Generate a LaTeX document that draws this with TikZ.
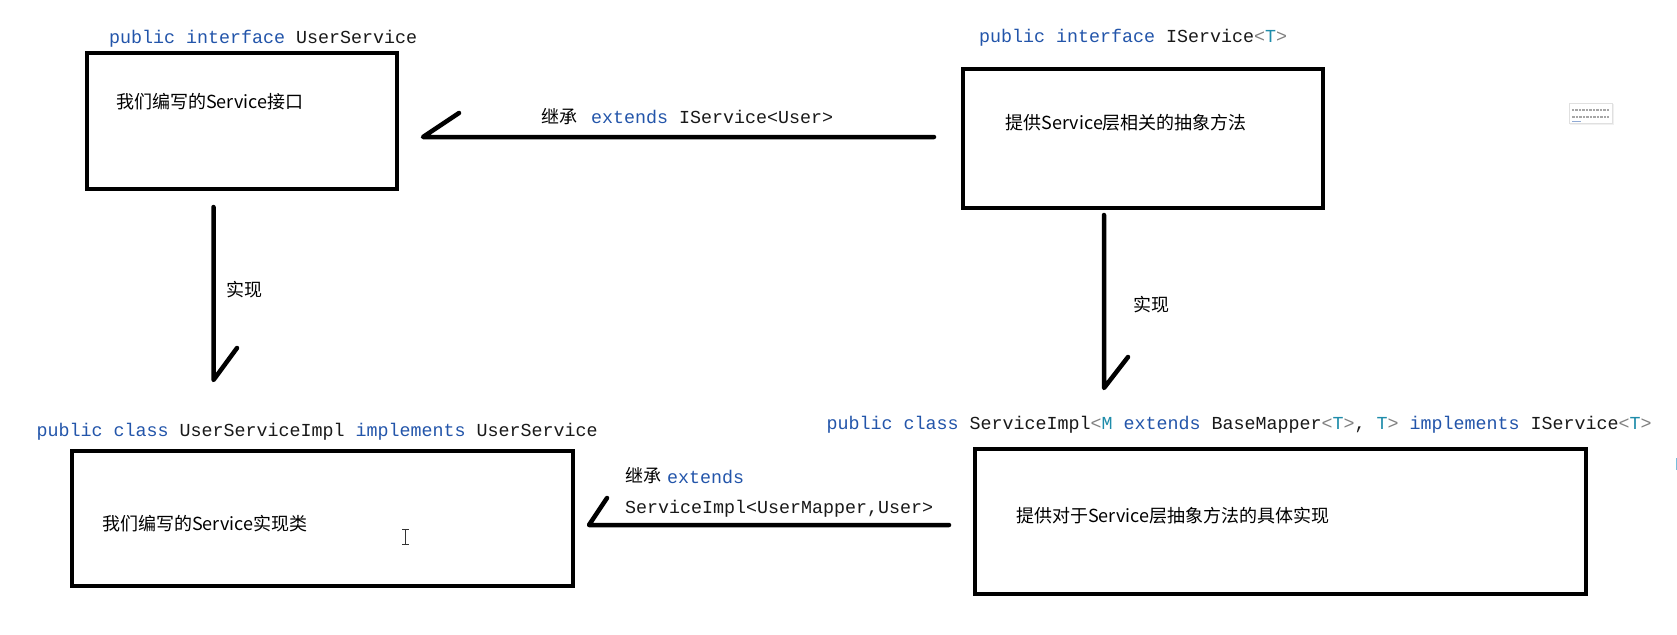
\documentclass[tikz,border=0pt]{standalone}
\usepackage{fontspec}
\setmonofont{Liberation Mono}
\newfontfamily\cjk{Noto Sans CJK SC}
\definecolor{kwblue}{RGB}{35,85,170}
\definecolor{tpteal}{RGB}{30,140,170}
\definecolor{brgray}{RGB}{128,128,128}
\definecolor{ink}{RGB}{25,25,25}
\definecolor{edgeblue}{RGB}{120,190,220}
\newcommand{\kw}[1]{\textcolor{kwblue}{#1}}
\newcommand{\tp}[1]{\textcolor{tpteal}{#1}}
\newcommand{\bk}[1]{\textcolor{brgray}{#1}}
\tikzset{
  box/.style={draw=black, line width=4.5pt, rectangle, inner sep=0pt},
  code/.style={inner sep=0pt, anchor=base west, text=ink, font=\ttfamily\fontsize{18.33}{20}\selectfont},
  zh/.style={inner sep=0pt, anchor=west, text=black, font=\cjk\fontsize{18}{20}\selectfont},
  arrowline/.style={draw=black, line width=4.5pt, line cap=round, line join=round}
}
\begin{document}
\begin{tikzpicture}[x=1pt,y=-1pt]
\useasboundingbox[fill=white] (0,0) rectangle (1677,634);

% boxes
\node[box, minimum width=310pt, minimum height=136pt] (b1) at (242,121) {};
\node[box, minimum width=360pt, minimum height=139pt] (b2) at (1143,138.5) {};
\node[box, minimum width=501pt, minimum height=135pt] (b3) at (322.5,518.5) {};
\node[box, minimum width=611pt, minimum height=145pt] (b4) at (1280.5,521.5) {};

% titles
\node[code] (t1) at (109,44) {\kw{public interface} UserService};
\node[code] (t2) at (979,42) {\kw{public interface} IService\bk{<}\tp{T}\bk{>}};
\node[code] (t3) at (36.5,436) {\kw{public class} UserServiceImpl \kw{implements} UserService};
\node[code] (t4) at (826.5,429) {\kw{public class} ServiceImpl\bk{<}\tp{M} \kw{extends} BaseMapper\bk{<}\tp{T}\bk{>}, \tp{T}\bk{>} \kw{implements} IService\bk{<}\tp{T}\bk{>}};

% box texts
\node[zh] (d1) at (116,102) {我们编写的Service接口};
\node[zh] (d2) at (1005.5,123) {提供Service层相关的抽象方法};
\node[zh] (d3) at (102,524) {我们编写的Service实现类};
\node[zh] (d4) at (1016,515.5) {提供对于Service层抽象方法的具体实现};

% arrow coordinates
\coordinate (a1s) at (934,137);
\coordinate (a1t) at (423,137);
\coordinate (a1b) at (459,113);
\coordinate (a2s) at (213.5,207);
\coordinate (a2t) at (213.5,380);
\coordinate (a2b) at (237,348);
\coordinate (a3s) at (1104,215);
\coordinate (a3t) at (1104,388);
\coordinate (a3b) at (1128,357);
\coordinate (a4s) at (949,525);
\coordinate (a4t) at (589,525);
\coordinate (a4b) at (607,498);

\draw[arrowline] (a1s) -- (a1t) -- (a1b);
\draw[arrowline] (a2s) -- (a2t) -- (a2b);
\draw[arrowline] (a3s) -- (a3t) -- (a3b);
\draw[arrowline] (a4s) -- (a4t) -- (a4b);

% arrow labels
\node[zh] (l1a) at (541,117) {继承};
\node[code] (l1b) at (591,123) {\kw{extends} IService<User>};
\node[zh] (l2) at (226,290) {实现};
\node[zh] (l3) at (1133,305) {实现};
\node[zh] (l4a) at (625,476) {继承};
\node[code] (l4b) at (667,483) {\kw{extends}};
\node[code] (l4c) at (625,513) {ServiceImpl<UserMapper,User>};

% text cursor (I-beam)
\draw[line width=1pt, black!80] (402,529) -- (409,529) (405.5,529) -- (405.5,544) (402,544) -- (409,544);

% small thumbnail at the right
\fill[black!6] (1570,104) rectangle (1614,125);
\node[draw=black!12, fill=white, inner sep=0pt, minimum width=43pt, minimum height=20pt] (icon) at (1591,113.5) {};
\draw[black!35, line width=1.1pt, dash pattern=on 2pt off 1pt on 3pt off 1pt] (1572,110) -- (1609,110);
\draw[black!35, line width=1.1pt, dash pattern=on 3pt off 1pt on 2pt off 1pt] (1572,117) -- (1609,117);
\draw[kwblue!50, line width=0.8pt] (1572,121) -- (1581,121);

% cut-off mark at the right edge
\draw[edgeblue, line width=2pt] (1676.5,458) -- (1676.5,470);
\end{tikzpicture}
\end{document}
